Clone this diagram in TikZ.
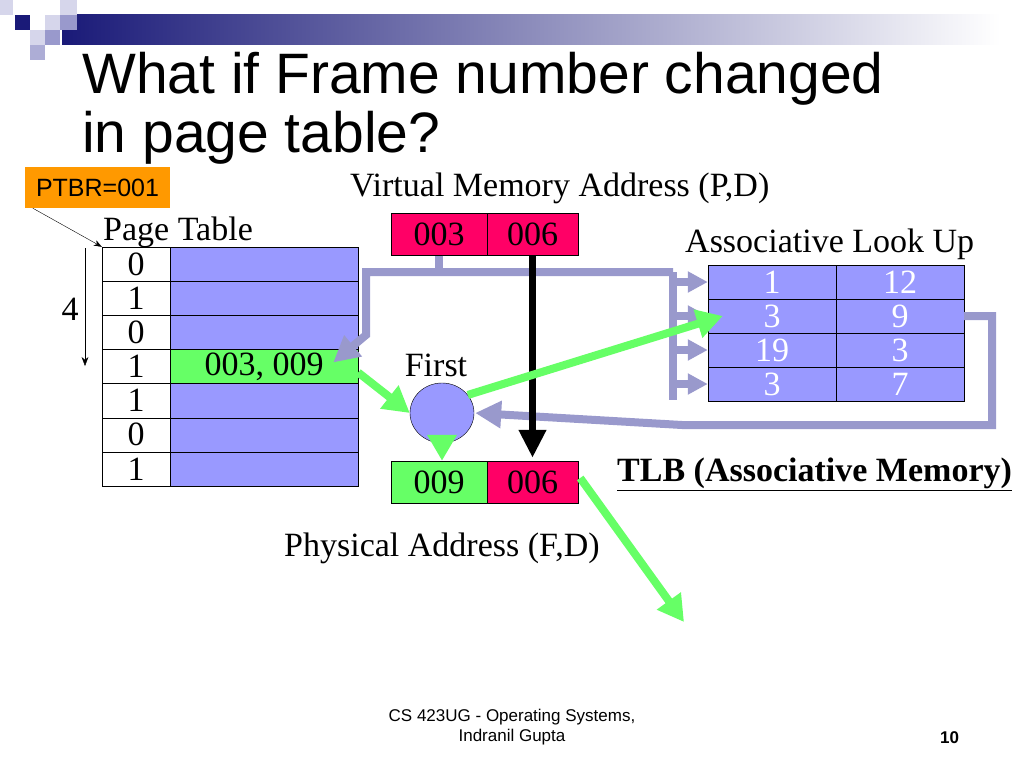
\documentclass[tikz,border=0pt]{standalone}
\usepackage{fontspec}
\setmainfont{Liberation Serif}
\setsansfont{Liberation Sans}
\usetikzlibrary{arrows.meta,positioning,shapes.geometric}
\definecolor{tableblue}{RGB}{153,153,255}
\definecolor{framegreen}{RGB}{102,255,102}
\definecolor{addrpink}{RGB}{255,0,102}
\definecolor{pathlilac}{RGB}{153,153,204}
\definecolor{ptbrorange}{RGB}{255,153,0}
\definecolor{slidenavy}{RGB}{26,26,120}
\definecolor{slidemid}{RGB}{120,120,168}
\definecolor{slidelight}{RGB}{214,214,235}

\begin{document}
\begin{tikzpicture}[
        x=1pt, y=-1pt,
        txt/.style={inner sep=0pt, anchor=base west, font=\fontsize{34}{40}\selectfont},
        cell/.style={draw, fill=#1, inner sep=0pt, minimum height=34.14pt,
            font=\fontsize{34}{40}\selectfont},
        tlbcell/.style={cell=tableblue, text=white, minimum width=128pt, minimum height=34pt},
        addr/.style={cell=#1, minimum height=42pt},
        lilacline/.style={draw=pathlilac, line width=8pt},
        lilacarrow/.style={lilacline, -{Triangle[length=26pt,width=26pt]}},
        probearrow/.style={lilacline, -{Triangle[length=20pt,width=20pt]}},
        greenarrow/.style={draw=framegreen, line width=8pt, -{Triangle[length=26pt,width=28pt]}},
        blackarrow/.style={draw=black, line width=7pt, -{Triangle[length=28pt,width=26pt]}}
    ]
        \useasboundingbox (0,0) rectangle (1024,768);

        % slide decoration
        \shade[left color=slidenavy, middle color=slidemid, right color=white] (62,15) rectangle (1000,45);
        \fill[slidenavy] (15,15) rectangle (30,30);
        \fill[slidelight] (0,0) rectangle (13,15);
        \fill[slidelight] (60,0) rectangle (77,15);
        \fill[slidelight] (45,15) rectangle (60,30);
        \fill[pathlilac] (60,15) rectangle (77,30);
        \fill[slidelight] (30,30) rectangle (45,45);
        \fill[pathlilac] (45,30) rectangle (60,45);
        \fill[pathlilac!80] (30,45) rectangle (45,60);

        \node[txt, font=\sffamily\fontsize{57}{60}\selectfont] (title1) at (82,93) {What if Frame number changed};
        \node[txt, font=\sffamily\fontsize{57}{60}\selectfont] (title2) at (82,152) {in page table?};

        % page table
        \node[fill=ptbrorange, minimum width=145pt, minimum height=41pt, inner sep=0pt,
            font=\sffamily\fontsize{25}{28}\selectfont] (ptbr) at (97.5,187.5) {PTBR=001};
        \node[txt] (ptlabel) at (103,240) {Page Table};
        \foreach \bit/\col/\frm [count=\i] in {0/tableblue/{},1/tableblue/{},0/tableblue/{},
            1/framegreen/{003, 009},1/tableblue/{},0/tableblue/{},1/tableblue/{}}{
            \node[cell=white, minimum width=68pt] (bit\i) at (136,{229.93+34.14*\i}) {\bit};
            \node[cell=\col, minimum width=188pt] (frame\i) at (264,{229.93+34.14*\i}) {\frm};
        }
        \draw[-{Stealth[length=8pt]}] ([xshift=8pt]ptbr.south west) -- (bit1.north west);
        \coordinate (countstart) at (85,248);
        \coordinate (countend) at (85,366);
        \draw[-{Stealth[length=9pt]}] (countstart) -- (countend);
        \node[txt, anchor=base] (count) at (70,320) {4};

        % addresses
        \node[txt] (valabel) at (350,196) {Virtual Memory Address (P,D)};
        \node[addr=addrpink, minimum width=96pt] (vpage) at (439,234.5) {003};
        \node[addr=addrpink, minimum width=91pt] (voff) at (532.5,234.5) {006};
        \node[addr=framegreen, minimum width=96pt] (pframe) at (439,482) {009};
        \node[addr=addrpink, minimum width=91pt] (poff) at (532.5,482) {006};
        \node[txt] (palabel) at (284,556) {Physical Address (F,D)};

        % TLB
        \node[txt] (tlblabel) at (685,252) {Associative Look Up};
        \foreach \pg/\fr [count=\i] in {1/12,3/9,19/3,3/7}{
            \node[tlbcell] (tlbp\i) at (772,{248+34*\i}) {\pg};
            \node[tlbcell] (tlbf\i) at (900,{248+34*\i}) {\fr};
        }
        \node[txt, font=\bfseries\fontsize{34}{40}\selectfont] (tlbname) at (617,481) {\underline{TLB (Associative Memory)}};

        \node[draw, ellipse, fill=tableblue, minimum width=64pt, minimum height=60pt, inner sep=0pt] (first) at (442,413) {};
        \node[txt, anchor=base] (firstlabel) at (436,376) {First};

        % lookup paths
        \coordinate (bus) at (439,272);
        \coordinate (busleft) at (366,272);
        \coordinate (busbend) at (366,335);
        \coordinate (busright) at (673,272);
        \coordinate (busend) at (673,400);
        \draw[lilacline] (vpage.south) -- (bus);
        \draw[lilacarrow] (busright) -- (busleft) -- (busbend) -- ([xshift=-25pt,yshift=4pt]frame4.east);
        \draw[lilacline] (busright) -- (busend);
        \foreach \i in {1,...,4}
            \draw[probearrow] (busright |- tlbp\i.west) -- (tlbp\i.west);
        \coordinate (retright) at (992,316);
        \coordinate (retdown) at (992,425);
        \coordinate (retleft) at (682,425);
        \draw[lilacarrow] (tlbf2.east) -- (retright) -- (retdown) -- (retleft) -- ([xshift=1pt]first.east);

        \draw[blackarrow] (voff.south) -- ([yshift=3pt]poff.north);
        \draw[greenarrow] ([yshift=-6pt]frame4.east) -- (first.west);
        \draw[greenarrow] (first.35) -- ([xshift=15pt]tlbp2.west);
        \draw[greenarrow] (first.south) -- (first.south |- pframe.north);
        \coordinate (memory) at (684,622);
        \draw[greenarrow] ([xshift=2pt,yshift=4pt]poff.east) -- (memory);

        % footer
        \node[font=\sffamily\fontsize{17}{20}\selectfont, align=center] (footer) at (512,727) {CS 423UG - Operating Systems,\\Indranil Gupta};
        \node[txt, font=\sffamily\bfseries\fontsize{17}{20}\selectfont] (pagenum) at (940,743) {10};
\end{tikzpicture}
\end{document}
